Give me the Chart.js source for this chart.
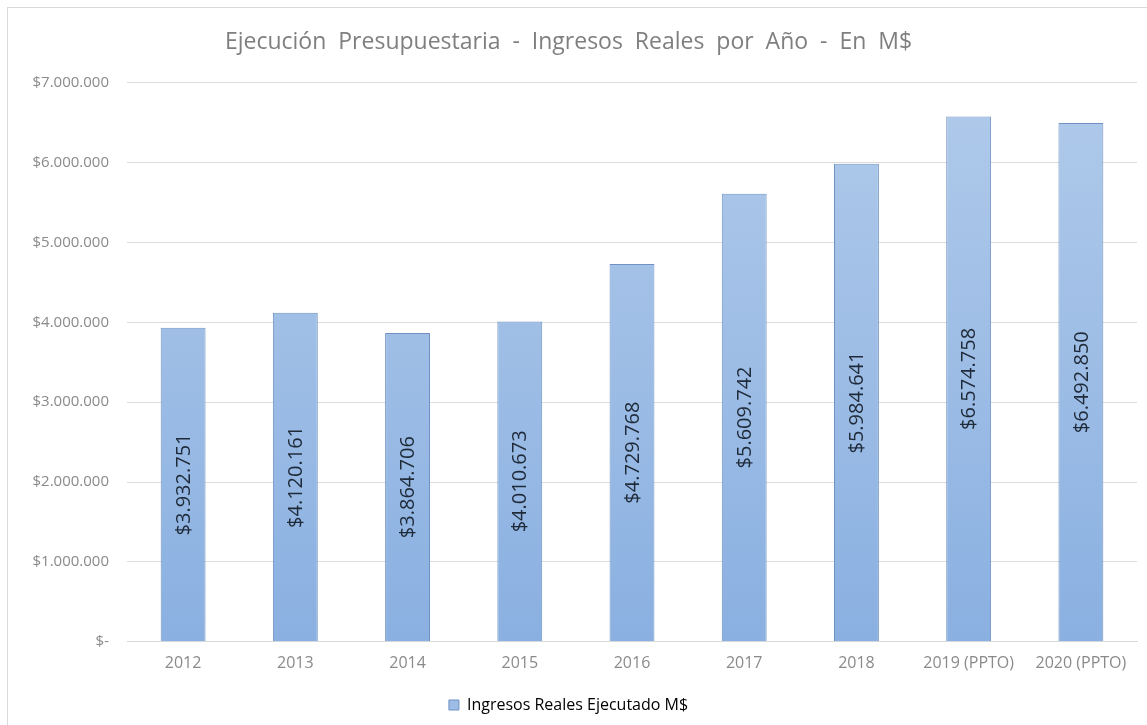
<!DOCTYPE html>
<html>
<head>
<meta charset="utf-8">
<script src="https://cdn.jsdelivr.net/npm/chart.js@4.4.1/dist/chart.umd.min.js"></script>
<style>
    html, body { margin: 0; padding: 0; background: #fff; }
    #wrap { position: relative; width: 1147px; height: 725px; overflow: hidden; }
    #frame { position: absolute; left: 7px; top: 7px; width: 1160px; height: 740px; border: 1px solid #d9d9d9; }
    #chart { position: absolute; left: 0; top: 0; }
</style>
</head>
<body>
<div id="wrap">
    <div id="frame"></div>
    <canvas id="chart" width="1147" height="725"></canvas>
</div>
<script>
    // ─── Data ───
    const years = ['2012', '2013', '2014', '2015', '2016', '2017', '2018', '2019 (PPTO)', '2020 (PPTO)'];
    const ingresos = [3932751, 4120161, 3864706, 4010673, 4729768, 5609742, 5984641, 6574758, 6492850];
    const seriesName = 'Ingresos Reales Ejecutado M$';
    const titleText = 'Ejecución  Presupuestaria  -  Ingresos  Reales  por  Año  -  En  M$';

    const FONT = '"Open Sans", "Liberation Sans", sans-serif';

    // thousands with dots, spanish style
    const fmt = (v) => String(Math.round(v)).replace(/\B(?=(\d{3})+(?!\d))/g, '.');

    // vertical value labels in the middle of each bar
    const barLabels = {
        id: 'barLabels',
        afterDatasetsDraw(chart) {
            const { ctx } = chart;
            const meta = chart.getDatasetMeta(0);
            ctx.save();
            ctx.font = '20px ' + FONT;
            ctx.fillStyle = '#1f2a38';
            ctx.textAlign = 'center';
            ctx.textBaseline = 'middle';
            meta.data.forEach((bar, i) => {
                const y = (bar.y + bar.base) / 2;
                ctx.save();
                ctx.translate(bar.x, y);
                ctx.rotate(-Math.PI / 2);
                ctx.fillText('$' + fmt(ingresos[i]), 0, 1);
                ctx.restore();
            });
            ctx.restore();
        },
    };

    const ctx = document.getElementById('chart').getContext('2d');
    new Chart(ctx, {
        type: 'bar',
        data: {
            labels: years,
            datasets: [{
                label: seriesName,
                data: ingresos,
                backgroundColor: (c) => {
                    const area = c.chart.chartArea;
                    if (!area) return '#9dbde6';
                    const g = c.chart.ctx.createLinearGradient(0, area.top, 0, area.bottom);
                    g.addColorStop(0, '#b0caea');
                    g.addColorStop(1, '#8ab0e1');
                    return g;
                },
                borderColor: '#6f92c2',
                borderWidth: 1,
                categoryPercentage: 1,
                barPercentage: 0.4,
            }],
        },
        options: {
            responsive: false,
            animation: false,
            layout: { padding: { left: 0, right: 10, top: 0, bottom: 2 } },
            plugins: {
                title: {
                    display: true,
                    text: titleText,
                    color: '#7f7f7f',
                    font: { family: FONT, size: 23, weight: 'normal' },
                    padding: { top: 29, bottom: 26 },
                },
                legend: {
                    position: 'bottom',
                    labels: {
                        color: '#8a8a8a',
                        font: { family: FONT, size: 16 },
                        boxWidth: 10,
                        boxHeight: 10,
                        padding: 12,
                        generateLabels: (chart) => [{
                            text: seriesName,
                            fillStyle: '#9dbde6',
                            strokeStyle: '#6f92c2',
                            lineWidth: 1,
                            datasetIndex: 0,
                        }],
                    },
                },
                tooltip: { enabled: false },
            },
            scales: {
                x: {
                    grid: { display: false, drawTicks: false },
                    border: { display: true, color: '#d9d9d9' },
                    ticks: { color: '#8a8a8a', font: { family: FONT, size: 16 }, padding: 12, maxRotation: 0 },
                },
                y: {
                    min: 0,
                    max: 7000000,
                    grid: { color: '#dcdcdc', drawTicks: false },
                    border: { display: false },
                    ticks: {
                        stepSize: 1000000,
                        color: '#8a8a8a',
                        font: { family: FONT, size: 15 },
                        padding: 18,
                        callback: (v) => v === 0 ? '$-' : '$' + fmt(v),
                    },
                    afterFit: (scale) => { scale.width = 127; },
                },
            },
        },
        plugins: [barLabels],
    });
</script>
</body>
</html>
